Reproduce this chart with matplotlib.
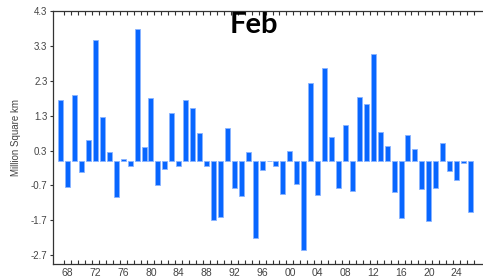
import numpy as np
import matplotlib.pyplot as plt
from matplotlib.ticker import FixedLocator

plt.rcParams['font.family'] = ['Liberation Sans', 'DejaVu Sans']

years = np.arange(1967, 2027)
anom = [1.75, -0.73, 1.89, -0.31, 0.61, 3.47, 1.26, 0.27, -1.02, 0.06,
        -0.15, 3.77, 0.40, 1.81, -0.68, -0.23, 1.38, -0.15, 1.74, 1.53,
        0.79, -0.13, -1.68, -1.60, 0.96, -0.77, -1.00, 0.27, -2.20, -0.25,
        0.0, -0.13, -0.94, 0.29, -0.66, -2.56, 2.23, -0.96, 2.67, 0.69,
        -0.77, 1.04, -0.85, 1.83, 1.63, 3.07, 0.84, 0.42, -0.88, -1.64,
        0.76, 0.34, -0.80, -1.71, -0.77, 0.51, -0.28, -0.53, -0.05, -1.47]
yticks = [-2.7, -1.7, -0.7, 0.3, 1.3, 2.3, 3.3, 4.3]
label_years = np.arange(1968, 2027, 4)
label_text = ['%02d' % (y % 100) for y in label_years]

fig = plt.figure(figsize=(4.83, 2.79), dpi=100)
ax = fig.add_axes([53/483, 1 - 264/279, 1 - 53/483, 253/279])

ax.bar(years, anom, width=0.72, color='#0866ff', edgecolor='#8ab4ff', linewidth=0.6)

ax.set_xlim(1965.9, 2027.8)
ax.set_ylim(-2.95, 4.3)

ax.set_yticks(yticks)
ax.set_yticklabels(['%.1f' % v for v in yticks])
ax.tick_params(axis='y', direction='out', length=2.5, width=0.8, pad=1.5,
               labelsize=7, labelcolor='#444444', color='#333333')

ax.set_xticks(label_years)
ax.set_xticklabels(label_text)
ax.xaxis.set_minor_locator(FixedLocator(np.arange(1967.5, 2027, 1)))
ax.tick_params(axis='x', which='major', length=0, pad=3, labelsize=7.5, labelcolor='#444444')
ax.tick_params(axis='x', which='minor', direction='in', length=2.8, width=0.8,
               top=True, bottom=True, color='#333333')

for s in ['left', 'bottom', 'top']:
    ax.spines[s].set_color('#333333')
    ax.spines[s].set_linewidth(0.9)
ax.spines['right'].set_visible(False)

ax.set_ylabel('Million Square km', fontsize=7, color='#444444', labelpad=7)

fig.text(254/483, 1 - 25/279, 'Feb', ha='center', va='center',
         fontsize=21, fontweight='bold', family=['Lato', 'DejaVu Sans'])

fig.savefig('out.png', dpi=100)
